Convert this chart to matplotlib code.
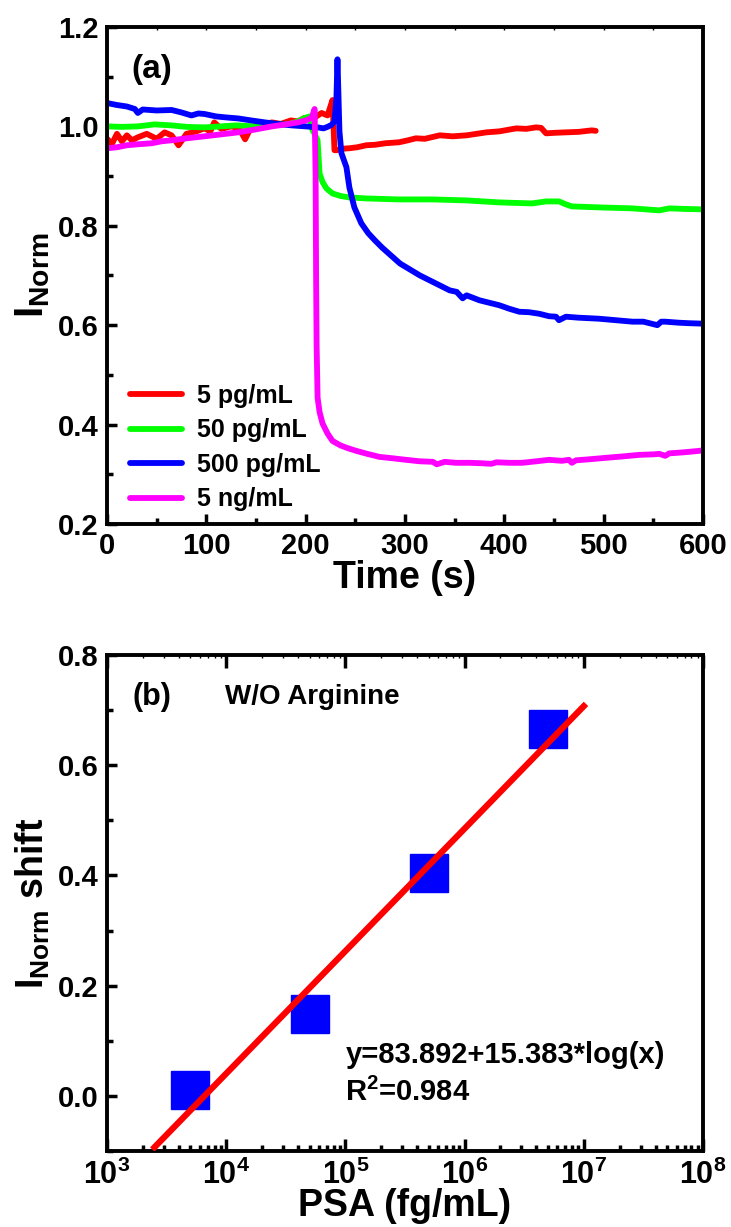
import numpy as np
import matplotlib
matplotlib.use("Agg")
import matplotlib.pyplot as plt
from matplotlib.ticker import MultipleLocator, LogLocator, FuncFormatter, NullFormatter

plt.rcParams.update({
    "font.family": ["Liberation Sans", "DejaVu Sans"],
    "font.weight": "bold",
    "axes.labelweight": "bold",
    "mathtext.fontset": "custom",
    "mathtext.rm": "Liberation Sans:bold",
    "mathtext.bf": "Liberation Sans:bold",
    "mathtext.it": "Liberation Sans:bold",
})

# (a) normalised current vs time for each PSA concentration
t_5pg = [0, 5, 10, 15, 20, 25, 31, 40, 50, 58, 65, 72, 80, 90, 98, 104, 108, 115, 125, 133,
         139, 145, 155, 166, 175, 185, 192, 199, 207, 216, 222, 227, 229, 231, 237, 244, 252,
         261, 270, 280, 294, 303, 311, 320, 335, 348, 362, 372, 382, 395, 412, 422, 432, 437,
         442, 450, 462, 475, 488, 492]
i_5pg = [0.975, 0.965, 0.985, 0.970, 0.982, 0.972, 0.978, 0.985, 0.975, 0.988, 0.982, 0.962,
         0.985, 0.990, 0.996, 0.990, 1.008, 0.995, 1.000, 0.996, 0.974, 0.998, 1.003, 1.008,
         1.005, 1.012, 1.010, 1.017, 1.015, 1.027, 1.022, 1.053, 0.952, 0.952, 0.955, 0.956,
         0.958, 0.962, 0.963, 0.966, 0.968, 0.972, 0.976, 0.975, 0.982, 0.980, 0.982, 0.985,
         0.988, 0.990, 0.996, 0.995, 0.998, 0.997, 0.986, 0.987, 0.988, 0.989, 0.992, 0.991]

t_50pg = [0, 15, 31, 48, 65, 80, 98, 115, 130, 149, 165, 182, 192, 199, 204, 207, 209, 212,
          214, 217, 221, 227, 235, 244, 261, 294, 328, 362, 395, 428, 442, 455, 462, 468, 495,
          529, 556, 566, 580, 600]
i_50pg = [1.000, 0.999, 1.000, 1.004, 1.002, 0.999, 0.998, 1.000, 1.002, 1.000, 1.003, 1.004,
          1.010, 1.017, 1.020, 0.992, 0.985, 0.972, 0.905, 0.888, 0.875, 0.865, 0.860, 0.857,
          0.855, 0.853, 0.853, 0.851, 0.847, 0.845, 0.849, 0.849, 0.843, 0.839, 0.837, 0.835,
          0.831, 0.835, 0.834, 0.833]

t_500pg = [0, 10, 20, 28, 31, 36, 50, 65, 75, 85, 92, 98, 110, 120, 132, 145, 159, 172, 186,
           200, 212, 218, 222, 226, 229, 231, 232, 234, 236, 241, 244, 249, 256, 263, 270, 277,
           286, 295, 305, 315, 325, 335, 345, 352, 358, 362, 375, 385, 395, 405, 415, 425, 435,
           445, 452, 455, 462, 475, 495, 512, 529, 540, 554, 558, 562, 575, 585, 600]
i_500pg = [1.047, 1.043, 1.040, 1.035, 1.027, 1.034, 1.032, 1.033, 1.028, 1.022, 1.026, 1.025,
           1.020, 1.018, 1.016, 1.012, 1.008, 1.005, 1.002, 1.000, 0.998, 0.996, 0.999, 1.003,
           1.010, 1.060, 1.135, 0.990, 0.946, 0.918, 0.877, 0.837, 0.805, 0.785, 0.770, 0.756,
           0.740, 0.724, 0.712, 0.700, 0.690, 0.680, 0.670, 0.667, 0.654, 0.660, 0.650, 0.645,
           0.640, 0.633, 0.627, 0.626, 0.623, 0.618, 0.617, 0.610, 0.617, 0.615, 0.613, 0.610,
           0.607, 0.607, 0.600, 0.607, 0.607, 0.605, 0.604, 0.603]

t_5ng = [0, 10, 20, 31, 45, 55, 65, 80, 98, 115, 132, 150, 166, 180, 192, 200, 206, 209, 210,
         210.5, 211, 212, 214, 217, 222, 227, 235, 243, 251, 262, 274, 288, 301, 315, 328, 332,
         340, 351, 365, 378, 387, 392, 405, 418, 432, 445, 458, 465, 468, 472, 485, 502, 520,
         536, 550, 556, 562, 566, 580, 596, 600]
i_5ng = [0.956, 0.958, 0.962, 0.964, 0.966, 0.970, 0.972, 0.976, 0.980, 0.984, 0.988, 0.994,
         1.000, 1.004, 1.008, 1.012, 1.017, 1.035, 0.900, 0.700, 0.560, 0.454, 0.425, 0.402,
         0.382, 0.367, 0.358, 0.352, 0.347, 0.341, 0.335, 0.332, 0.329, 0.326, 0.325, 0.320,
         0.325, 0.323, 0.323, 0.322, 0.321, 0.324, 0.323, 0.323, 0.326, 0.329, 0.327, 0.329,
         0.323, 0.328, 0.330, 0.333, 0.336, 0.339, 0.340, 0.341, 0.337, 0.342, 0.344, 0.347,
         0.348]

series = [
    (t_5pg, i_5pg, "#ff0000", "5 pg/mL"),
    (t_50pg, i_50pg, "#00ff00", "50 pg/mL"),
    (t_500pg, i_500pg, "#0000ff", "500 pg/mL"),
    (t_5ng, i_5ng, "#ff00ff", "5 ng/mL"),
]

# (b) current shift vs PSA concentration (no arginine)
psa_conc = [5e3, 5e4, 5e5, 5e6]
i_shift = [0.010, 0.148, 0.405, 0.665]


def style_axes(ax):
    for sp in ax.spines.values():
        sp.set_linewidth(2.8)
    ax.tick_params(which="major", direction="in", length=7, width=2.5,
                   labelsize=21, pad=6, top=False, right=False)
    ax.tick_params(which="minor", direction="in", length=4.5, width=2.5,
                   top=False, right=False)
    # faint ticks along the top edge
    ax.tick_params(which="both", top=True)
    for tk in ax.xaxis.get_major_ticks() + ax.xaxis.get_minor_ticks():
        tk.tick2line.set_markersize(2.5)
        tk.tick2line.set_markeredgewidth(1)


fig = plt.figure(figsize=(7.31, 12.27), dpi=100)

ax1 = fig.add_axes([0.1464, 0.573, 0.8153, 0.405])
for t, v, c, lab in series:
    ax1.plot(t, v, color=c, lw=4.2, label=lab,
             solid_capstyle="round", solid_joinstyle="round")
ax1.set_xlim(0, 600)
ax1.set_ylim(0.2, 1.2)
ax1.xaxis.set_major_locator(MultipleLocator(100))
ax1.xaxis.set_minor_locator(MultipleLocator(50))
ax1.yaxis.set_major_locator(MultipleLocator(0.2))
ax1.yaxis.set_minor_locator(MultipleLocator(0.1))
ax1.yaxis.set_major_formatter(FuncFormatter(lambda v, p: f"{v:.1f}"))
style_axes(ax1)
ax1.set_xlabel("Time (s)", fontsize=27, labelpad=0)
ax1.set_ylabel(r"$\mathbf{I_{Norm}}$", fontsize=29, labelpad=4)
ax1.text(0.075, 0.915, "(a)", transform=ax1.transAxes, fontsize=24,
         ha="center", va="center")
ax1.legend(loc="lower left", bbox_to_anchor=(0.0, -0.02), frameon=False,
           fontsize=18, handlelength=2.1, handletextpad=0.6, labelspacing=0.42)

ax2 = fig.add_axes([0.1464, 0.0619, 0.8153, 0.4043])
ax2.semilogx(psa_conc, i_shift, ls="none", marker="s", ms=27,
             color="#0000ff", zorder=2)
slope, icpt = np.polyfit(np.log10(psa_conc), i_shift, 1)
x_fit = np.array([2.5e3, 1e7])
ax2.plot(x_fit, icpt + slope * np.log10(x_fit), color="#ff0000", lw=4.5, zorder=3)
ax2.set_xlim(1e3, 1e8)
ax2.set_ylim(-0.1, 0.8)
ax2.xaxis.set_major_locator(LogLocator(base=10, numticks=10))
ax2.xaxis.set_minor_locator(LogLocator(base=10, subs=np.arange(2, 10), numticks=20))
ax2.xaxis.set_minor_formatter(NullFormatter())
ax2.xaxis.set_major_formatter(FuncFormatter(lambda v, p: r"$10^{%d}$" % round(np.log10(v))))
ax2.yaxis.set_major_locator(MultipleLocator(0.2))
ax2.yaxis.set_minor_locator(MultipleLocator(0.1))
ax2.yaxis.set_major_formatter(FuncFormatter(lambda v, p: f"{v:.1f}"))
style_axes(ax2)
ax2.tick_params(axis="x", which="major", length=9, labelsize=22)
ax2.set_xlabel("PSA (fg/mL)", fontsize=27, labelpad=-2)
ax2.set_ylabel(r"$\mathbf{I_{Norm}}$ shift", fontsize=27, labelpad=4)
ax2.text(0.075, 0.915, "(b)", transform=ax2.transAxes, fontsize=22,
         ha="center", va="center")
ax2.text(0.198, 0.915, "W/O Arginine", transform=ax2.transAxes, fontsize=20,
         ha="left", va="center")
ax2.text(0.40, 0.194, "y=83.892+15.383*log(x)", transform=ax2.transAxes,
         fontsize=21, ha="left", va="center")
ax2.text(0.40, 0.118, r"R$^{2}$=0.984", transform=ax2.transAxes,
         fontsize=21, ha="left", va="center")

fig.savefig("out.png", dpi=100)
